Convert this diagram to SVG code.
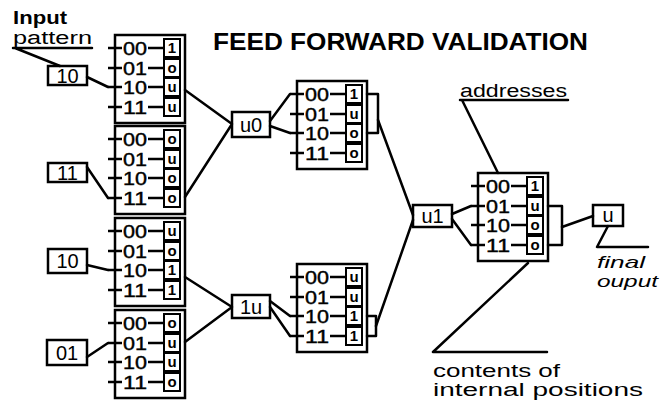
<svg xmlns="http://www.w3.org/2000/svg" width="662" height="401" viewBox="0 0 662 401">
<style>
.bx{fill:none;stroke:#000;stroke-width:2.5}
.sb{fill:none;stroke:#000;stroke-width:2}
.ln{fill:none;stroke:#000;stroke-width:2.5;stroke-linecap:round;stroke-linejoin:round}
.tk{stroke:#000;stroke-width:2.5}
.dg{font-family:"Liberation Sans",Arial,sans-serif;font-size:18px;fill:#000;stroke:#000;stroke-width:0.4}
.sl{font-family:"Liberation Sans",Arial,sans-serif;font-size:15px;font-weight:bold;text-anchor:middle;fill:#000}
.nd{font-family:"Liberation Sans",Arial,sans-serif;font-size:20px;text-anchor:middle;fill:#000}
.lb{font-family:"Liberation Sans",Arial,sans-serif;font-size:18px;fill:#000}
.it{font-family:"Liberation Sans",Arial,sans-serif;font-size:17px;font-style:italic;fill:#000}
.tt{font-family:"Liberation Sans",Arial,sans-serif;font-size:24px;font-weight:bold;fill:#000}
</style>
<rect width="662" height="401" fill="#fff"/>
<text class="tt" x="213" y="50" textLength="375" lengthAdjust="spacingAndGlyphs">FEED FORWARD VALIDATION</text>

<g id="label-input">
<text class="lb" x="13" y="24" font-size="17" font-weight="bold" textLength="54" lengthAdjust="spacingAndGlyphs">Input</text>
<text class="lb" x="13" y="44" font-size="17" textLength="79" lengthAdjust="spacingAndGlyphs">pattern</text>
</g>
<g id="label-addresses"><text class="lb" x="460" y="97" textLength="107" lengthAdjust="spacingAndGlyphs">addresses</text></g>
<g id="label-contents">
<text class="lb" x="433" y="377" textLength="127" lengthAdjust="spacingAndGlyphs">contents of</text>
<text class="lb" x="433" y="396" textLength="210" lengthAdjust="spacingAndGlyphs">internal positions</text>
</g>
<g id="label-final">
<text class="it" x="597" y="268" textLength="48" lengthAdjust="spacingAndGlyphs">final</text>
<text class="it" x="597" y="287" textLength="61" lengthAdjust="spacingAndGlyphs">ouput</text>
</g>

<g id="in1"><rect class="bx" x="48" y="66" width="39" height="19"/><text class="nd" x="67.5" y="83" font-size="20">10</text></g>
<g id="in2"><rect class="bx" x="48" y="163" width="39" height="19"/><text class="nd" x="67.5" y="180" font-size="20">11</text></g>
<g id="in3"><rect class="bx" x="48" y="249" width="39" height="24"/><text class="nd" x="67.5" y="268" font-size="20">10</text></g>
<g id="in4"><rect class="bx" x="47" y="340" width="40" height="25"/><text class="nd" x="67" y="360" font-size="20">01</text></g>

<g id="B1" transform="translate(115,35)">
<rect class="bx" width="70" height="88"/>
<path class="tk" d="M-7 13H7M-7 33H7M-7 52H7M-7 72H7M33 13H49M33 33H49M33 52H49M33 72H49"/>
<text class="dg" x="8" y="20" textLength="24" lengthAdjust="spacingAndGlyphs">00</text><text class="dg" x="8" y="40" textLength="24" lengthAdjust="spacingAndGlyphs">01</text><text class="dg" x="8" y="59" textLength="24" lengthAdjust="spacingAndGlyphs">10</text><text class="dg" x="8" y="79" textLength="24" lengthAdjust="spacingAndGlyphs">11</text>
<rect class="sb" x="49" y="4" width="16" height="18"/><rect class="sb" x="49" y="24" width="16" height="18"/><rect class="sb" x="49" y="43" width="16" height="18"/><rect class="sb" x="49" y="63" width="16" height="18"/>
<text class="sl" x="57" y="18">1</text><text class="sl" x="57" y="38">o</text><text class="sl" x="57" y="57">u</text><text class="sl" x="57" y="77">u</text>
</g>
<g id="B2" transform="translate(115,126)">
<rect class="bx" width="70" height="88"/>
<path class="tk" d="M-7 13H7M-7 33H7M-7 52H7M-7 72H7M33 13H49M33 33H49M33 52H49M33 72H49"/>
<text class="dg" x="8" y="20" textLength="24" lengthAdjust="spacingAndGlyphs">00</text><text class="dg" x="8" y="40" textLength="24" lengthAdjust="spacingAndGlyphs">01</text><text class="dg" x="8" y="59" textLength="24" lengthAdjust="spacingAndGlyphs">10</text><text class="dg" x="8" y="79" textLength="24" lengthAdjust="spacingAndGlyphs">11</text>
<rect class="sb" x="49" y="4" width="16" height="18"/><rect class="sb" x="49" y="24" width="16" height="18"/><rect class="sb" x="49" y="43" width="16" height="18"/><rect class="sb" x="49" y="63" width="16" height="18"/>
<text class="sl" x="57" y="18">o</text><text class="sl" x="57" y="38">u</text><text class="sl" x="57" y="57">o</text><text class="sl" x="57" y="77">o</text>
</g>
<g id="B3" transform="translate(115,218)">
<rect class="bx" width="70" height="88"/>
<path class="tk" d="M-7 13H7M-7 33H7M-7 52H7M-7 72H7M33 13H49M33 33H49M33 52H49M33 72H49"/>
<text class="dg" x="8" y="20" textLength="24" lengthAdjust="spacingAndGlyphs">00</text><text class="dg" x="8" y="40" textLength="24" lengthAdjust="spacingAndGlyphs">01</text><text class="dg" x="8" y="59" textLength="24" lengthAdjust="spacingAndGlyphs">10</text><text class="dg" x="8" y="79" textLength="24" lengthAdjust="spacingAndGlyphs">11</text>
<rect class="sb" x="49" y="4" width="16" height="18"/><rect class="sb" x="49" y="24" width="16" height="18"/><rect class="sb" x="49" y="43" width="16" height="18"/><rect class="sb" x="49" y="63" width="16" height="18"/>
<text class="sl" x="57" y="18">u</text><text class="sl" x="57" y="38">o</text><text class="sl" x="57" y="57">1</text><text class="sl" x="57" y="77">1</text>
</g>
<g id="B4" transform="translate(115,310)">
<rect class="bx" width="70" height="88"/>
<path class="tk" d="M-7 13H7M-7 33H7M-7 52H7M-7 72H7M33 13H49M33 33H49M33 52H49M33 72H49"/>
<text class="dg" x="8" y="20" textLength="24" lengthAdjust="spacingAndGlyphs">00</text><text class="dg" x="8" y="40" textLength="24" lengthAdjust="spacingAndGlyphs">01</text><text class="dg" x="8" y="59" textLength="24" lengthAdjust="spacingAndGlyphs">10</text><text class="dg" x="8" y="79" textLength="24" lengthAdjust="spacingAndGlyphs">11</text>
<rect class="sb" x="49" y="4" width="16" height="18"/><rect class="sb" x="49" y="24" width="16" height="18"/><rect class="sb" x="49" y="43" width="16" height="18"/><rect class="sb" x="49" y="63" width="16" height="18"/>
<text class="sl" x="57" y="18">o</text><text class="sl" x="57" y="38">u</text><text class="sl" x="57" y="57">u</text><text class="sl" x="57" y="77">o</text>
</g>
<g id="M1" transform="translate(297,81)">
<rect class="bx" width="70" height="88"/>
<path class="tk" d="M-7 13H7M-7 33H7M-7 52H7M-7 72H7M33 13H49M33 33H49M33 52H49M33 72H49"/>
<text class="dg" x="8" y="20" textLength="24" lengthAdjust="spacingAndGlyphs">00</text><text class="dg" x="8" y="40" textLength="24" lengthAdjust="spacingAndGlyphs">01</text><text class="dg" x="8" y="59" textLength="24" lengthAdjust="spacingAndGlyphs">10</text><text class="dg" x="8" y="79" textLength="24" lengthAdjust="spacingAndGlyphs">11</text>
<rect class="sb" x="49" y="4" width="16" height="18"/><rect class="sb" x="49" y="24" width="16" height="18"/><rect class="sb" x="49" y="43" width="16" height="18"/><rect class="sb" x="49" y="63" width="16" height="18"/>
<text class="sl" x="57" y="18">1</text><text class="sl" x="57" y="38">u</text><text class="sl" x="57" y="57">o</text><text class="sl" x="57" y="77">o</text>
</g>
<g id="M2" transform="translate(297,264)">
<rect class="bx" width="70" height="88"/>
<path class="tk" d="M-7 13H7M-7 33H7M-7 52H7M-7 72H7M33 13H49M33 33H49M33 52H49M33 72H49"/>
<text class="dg" x="8" y="20" textLength="24" lengthAdjust="spacingAndGlyphs">00</text><text class="dg" x="8" y="40" textLength="24" lengthAdjust="spacingAndGlyphs">01</text><text class="dg" x="8" y="59" textLength="24" lengthAdjust="spacingAndGlyphs">10</text><text class="dg" x="8" y="79" textLength="24" lengthAdjust="spacingAndGlyphs">11</text>
<rect class="sb" x="49" y="4" width="16" height="18"/><rect class="sb" x="49" y="24" width="16" height="18"/><rect class="sb" x="49" y="43" width="16" height="18"/><rect class="sb" x="49" y="63" width="16" height="18"/>
<text class="sl" x="57" y="18">u</text><text class="sl" x="57" y="38">u</text><text class="sl" x="57" y="57">1</text><text class="sl" x="57" y="77">1</text>
</g>
<g id="R" transform="translate(478,173)">
<rect class="bx" width="70" height="88"/>
<path class="tk" d="M-7 13H7M-7 33H7M-7 52H7M-7 72H7M33 13H49M33 33H49M33 52H49M33 72H49"/>
<text class="dg" x="8" y="20" textLength="24" lengthAdjust="spacingAndGlyphs">00</text><text class="dg" x="8" y="40" textLength="24" lengthAdjust="spacingAndGlyphs">01</text><text class="dg" x="8" y="59" textLength="24" lengthAdjust="spacingAndGlyphs">10</text><text class="dg" x="8" y="79" textLength="24" lengthAdjust="spacingAndGlyphs">11</text>
<rect class="sb" x="49" y="4" width="16" height="18"/><rect class="sb" x="49" y="24" width="16" height="18"/><rect class="sb" x="49" y="43" width="16" height="18"/><rect class="sb" x="49" y="63" width="16" height="18"/>
<text class="sl" x="57" y="18">1</text><text class="sl" x="57" y="38">u</text><text class="sl" x="57" y="57">o</text><text class="sl" x="57" y="77">o</text>
</g>

<g id="u0"><rect class="bx" x="232" y="112" width="38" height="25"/><text class="nd" x="251" y="132">u0</text></g>
<g id="n1u"><rect class="bx" x="232" y="295" width="38" height="23"/><text class="nd" x="251" y="314">1u</text></g>
<g id="u1"><rect class="bx" x="413" y="205" width="39" height="22"/><text class="nd" x="432.5" y="223">u1</text></g>
<g id="uout"><rect class="bx" x="593" y="205" width="30" height="21"/><text class="nd" x="608" y="222">u</text></g>

<g id="connectors">
<path class="ln" d="M87 77L108 87"/>
<path class="ln" d="M87 167L108 198"/>
<path class="ln" d="M87 265L108 270"/>
<path class="ln" d="M87 357L108 343"/>
<path class="ln" d="M185 90L232 124L185 197"/>
<path class="ln" d="M185 277L232 307L185 342"/>
<path class="ln" d="M290 94L270 121M270 126L290 133"/>
<path class="ln" d="M290 316L270 301M270 307L290 336"/>
<path class="ln" d="M367 94H378V133H367"/>
<path class="ln" d="M378 120L413 215"/>
<path class="ln" d="M367 316H376V336H367"/>
<path class="ln" d="M376 326L413 220"/>
<path class="ln" d="M471 206L452 214M452 219L471 245"/>
<path class="ln" d="M548 206H562V245H548"/>
<path class="ln" d="M562 227L593 216"/>
<path class="ln" d="M608 226L597 247H648"/>
<path class="ln" d="M460 100H568M462 100L498 173"/>
<path class="ln" d="M433 352H547M433 352L528 263"/>
<path class="ln" d="M13 48H92M15 48L60 66"/>
</g>
</svg>
